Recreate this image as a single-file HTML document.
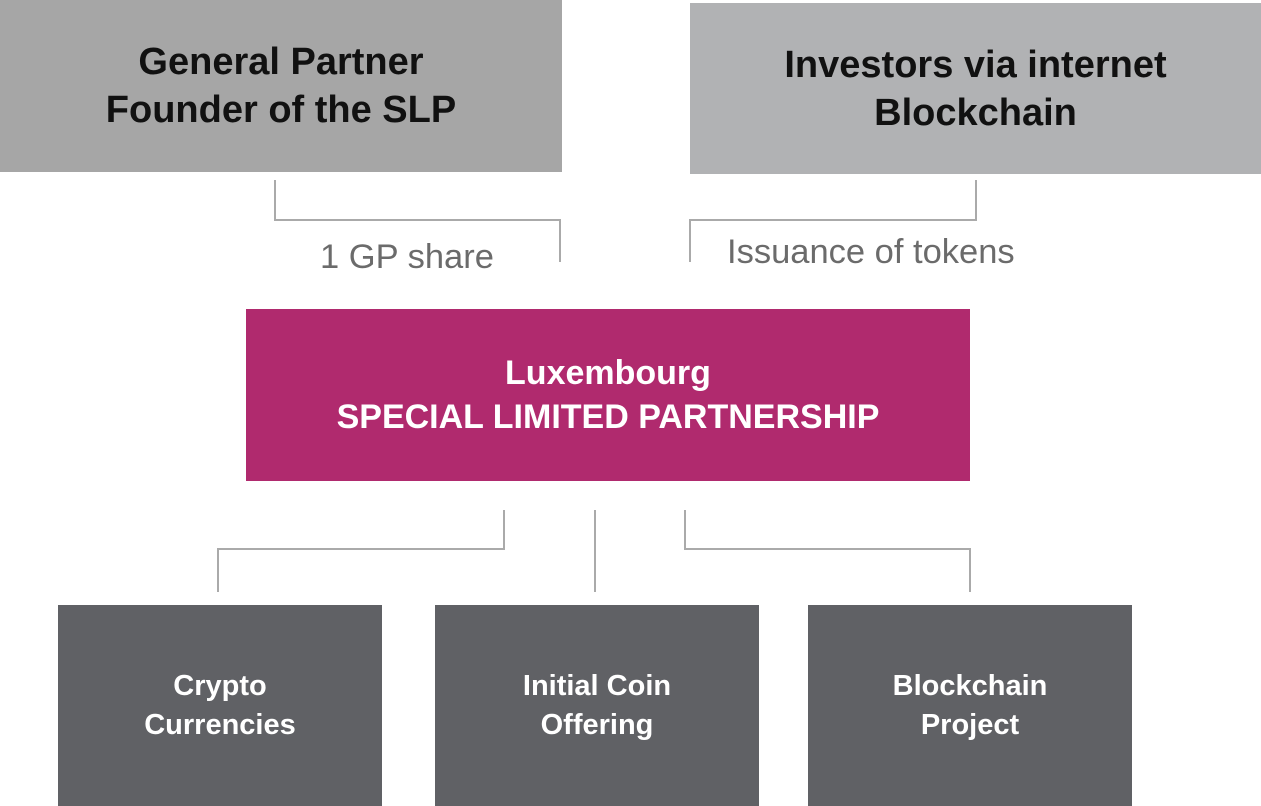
<!DOCTYPE html>
<html><head><meta charset="utf-8"><style>
body{margin:0;width:1261px;height:806px;background:#fff;position:relative;overflow:hidden;font-family:"Liberation Sans",sans-serif}
.b{position:absolute;display:flex;align-items:center;justify-content:center;text-align:center;font-weight:bold}
.t{position:absolute;color:#6b6b6b;font-size:34.5px;white-space:nowrap}
</style></head><body>
<div class="b" style="left:0;top:0;width:562px;height:172px;background:#a6a6a6;color:#111;font-size:38px;line-height:48px">General Partner<br>Founder of the SLP</div>
<div class="b" style="left:690px;top:3px;width:571px;height:171px;background:#b1b2b4;color:#111;font-size:38px;line-height:48px">Investors via internet<br>Blockchain</div>
<div class="b" style="left:246px;top:309px;width:724px;height:172px;background:#b02a6e;color:#fff;font-size:34px;line-height:44px">Luxembourg<br>SPECIAL LIMITED PARTNERSHIP</div>
<div class="b" style="left:58px;top:605px;width:324px;height:201px;background:#606165;color:#fff;font-size:29px;line-height:39px">Crypto<br>Currencies</div>
<div class="b" style="left:435px;top:605px;width:324px;height:201px;background:#606165;color:#fff;font-size:29px;line-height:39px">Initial Coin<br>Offering</div>
<div class="b" style="left:808px;top:605px;width:324px;height:201px;background:#606165;color:#fff;font-size:29px;line-height:39px">Blockchain<br>Project</div>
<div class="t" style="left:320px;top:238px">1 GP share</div>
<div class="t" style="left:727px;top:233px">Issuance of tokens</div>
<svg width="1261" height="806" style="position:absolute;left:0;top:0" fill="none" stroke="#aaaaaa" stroke-width="2">
<polyline points="275,180 275,220 560,220 560,262"/>
<polyline points="976,180 976,220 690,220 690,262"/>
<polyline points="504,510 504,549 218,549 218,592"/>
<polyline points="595,510 595,592"/>
<polyline points="685,510 685,549 970,549 970,592"/>
</svg>
</body></html>
